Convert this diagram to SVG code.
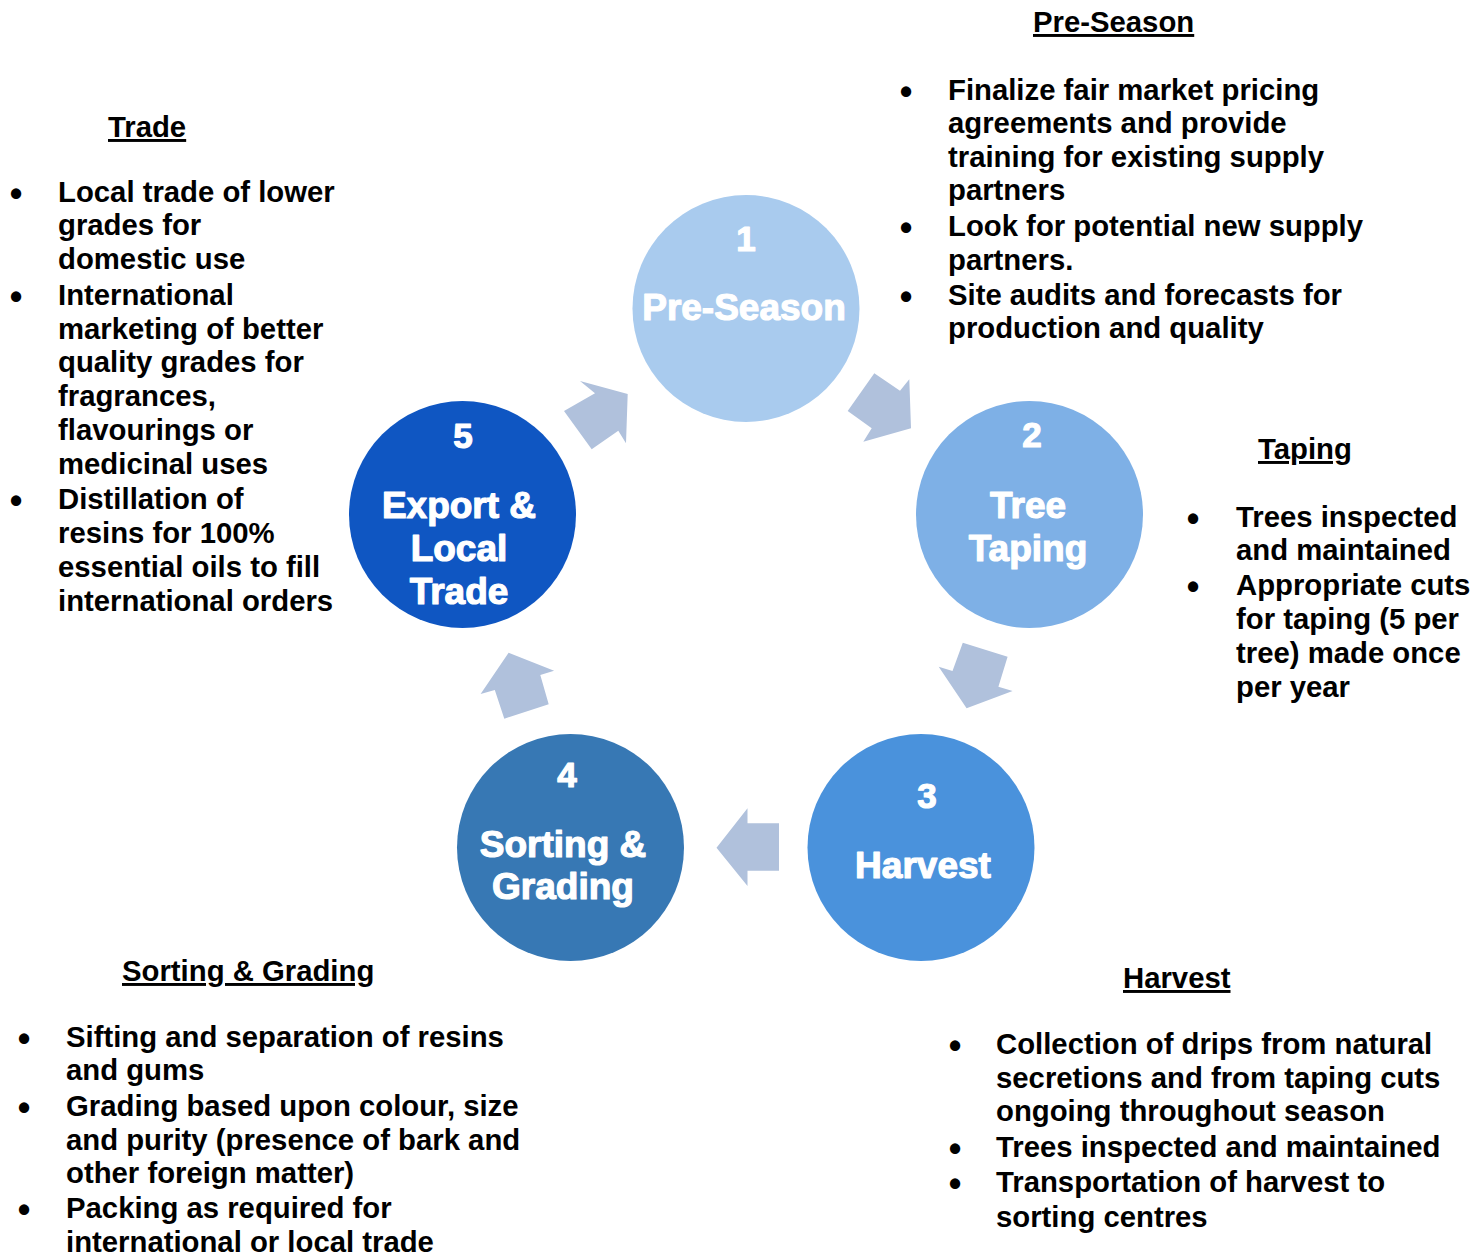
<svg xmlns="http://www.w3.org/2000/svg" width="1484" height="1254" viewBox="0 0 1484 1254">
<style>
.t{font-family:"Liberation Sans",Arial,sans-serif;font-weight:bold;font-size:29.3px;fill:#000}
.h{text-decoration:underline}
.b{text-anchor:middle;font-size:36px}
.c{font-family:"Liberation Sans",Arial,sans-serif;font-weight:bold;fill:#fff;stroke:#fff;stroke-width:1.2;stroke-linejoin:round;text-anchor:middle}
.n{font-size:35px}
.l{font-size:37px}
.arr{fill:#B0C1DC}
</style>
<rect width="1484" height="1254" fill="#fff"/>
<g id="connectors">
<polygon class="arr" points="564,411 591.7,449.3 618.3,430.7 626,443.3 627.7,394 580,381 595,393.3"/>
<polygon class="arr" points="874.3,373.3 900,390.7 909.3,379.3 911,428.3 863.3,441.7 871.7,428.3 847.7,411"/>
<polygon class="arr" points="962.8,642.7 1007.6,656.7 998.4,686.7 1012.6,691 966.6,708.3 938.7,666.7 952.5,671"/>
<polygon class="arr" points="779,823.3 747.5,823.3 747.5,808.3 716.5,847.7 747.5,886 747.5,870.7 779,870.7"/>
<polygon class="arr" points="508.6,652.7 554.1,670.7 540.3,675 548.7,704.3 504.3,718.7 494.8,690 480.6,694"/>
</g>
<g id="node1">
<circle cx="746" cy="308.5" r="113.5" fill="#A9CBEE"/>
<text class="c n" x="746" y="251">1</text>
<text class="c l" x="744" y="320">Pre-Season</text>
</g>
<g id="node2">
<circle cx="1029.5" cy="514.5" r="113.5" fill="#7EB0E6"/>
<text class="c n" x="1032" y="447">2</text>
<text class="c l" x="1028" y="518">Tree</text>
<text class="c l" x="1028" y="561">Taping</text>
</g>
<g id="node3">
<circle cx="921" cy="847.5" r="113.5" fill="#4A92DC"/>
<text class="c n" x="927" y="808">3</text>
<text class="c l" x="923" y="878">Harvest</text>
</g>
<g id="node4">
<circle cx="570.5" cy="847.5" r="113.5" fill="#3778B4"/>
<text class="c n" x="567" y="787">4</text>
<text class="c l" x="563" y="857">Sorting &amp;</text>
<text class="c l" x="563" y="899">Grading</text>
</g>
<g id="node5">
<circle cx="462.5" cy="514.5" r="113.5" fill="#0F56C2"/>
<text class="c n" x="463" y="448">5</text>
<text class="c l" x="459" y="518">Export &amp;</text>
<text class="c l" x="459" y="561">Local</text>
<text class="c l" x="459" y="604">Trade</text>
</g>
<g id="text-preseason">
<text class="t h" x="1033" y="32">Pre-Season</text>
<text class="t b" x="906" y="104">•</text>
<text class="t" x="948" y="100">Finalize fair market pricing</text>
<text class="t" x="948" y="133">agreements and provide</text>
<text class="t" x="948" y="167">training for existing supply</text>
<text class="t" x="948" y="200">partners</text>
<text class="t b" x="906" y="240">•</text>
<text class="t" x="948" y="236">Look for potential new supply</text>
<text class="t" x="948" y="270">partners.</text>
<text class="t b" x="906" y="309">•</text>
<text class="t" x="948" y="305">Site audits and forecasts for</text>
<text class="t" x="948" y="338">production and quality</text>
</g>
<g id="text-trade">
<text class="t h" x="108" y="137">Trade</text>
<text class="t b" x="16" y="206">•</text>
<text class="t" x="58" y="202">Local trade of lower</text>
<text class="t" x="58" y="235">grades for</text>
<text class="t" x="58" y="269">domestic use</text>
<text class="t b" x="16" y="309">•</text>
<text class="t" x="58" y="305">International</text>
<text class="t" x="58" y="339">marketing of better</text>
<text class="t" x="58" y="372">quality grades for</text>
<text class="t" x="58" y="406">fragrances,</text>
<text class="t" x="58" y="440">flavourings or</text>
<text class="t" x="58" y="474">medicinal uses</text>
<text class="t b" x="16" y="513">•</text>
<text class="t" x="58" y="509">Distillation of</text>
<text class="t" x="58" y="543">resins for 100%</text>
<text class="t" x="58" y="577">essential oils to fill</text>
<text class="t" x="58" y="611">international orders</text>
</g>
<g id="text-taping">
<text class="t h" x="1258" y="459">Taping</text>
<text class="t b" x="1193" y="531">•</text>
<text class="t" x="1236" y="527">Trees inspected</text>
<text class="t" x="1236" y="560">and maintained</text>
<text class="t b" x="1193" y="599">•</text>
<text class="t" x="1236" y="595">Appropriate cuts</text>
<text class="t" x="1236" y="629">for taping (5 per</text>
<text class="t" x="1236" y="663">tree) made once</text>
<text class="t" x="1236" y="697">per year</text>
</g>
<g id="text-harvest">
<text class="t h" x="1123" y="988">Harvest</text>
<text class="t b" x="955" y="1058">•</text>
<text class="t" x="996" y="1054">Collection of drips from natural</text>
<text class="t" x="996" y="1088">secretions and from taping cuts</text>
<text class="t" x="996" y="1121">ongoing throughout season</text>
<text class="t b" x="955" y="1161">•</text>
<text class="t" x="996" y="1157">Trees inspected and maintained</text>
<text class="t b" x="955" y="1196">•</text>
<text class="t" x="996" y="1192">Transportation of harvest to</text>
<text class="t" x="996" y="1227">sorting centres</text>
</g>
<g id="text-sorting">
<text class="t h" x="122" y="981">Sorting &amp; Grading</text>
<text class="t b" x="24" y="1051">•</text>
<text class="t" x="66" y="1047">Sifting and separation of resins</text>
<text class="t" x="66" y="1080">and gums</text>
<text class="t b" x="24" y="1120">•</text>
<text class="t" x="66" y="1116">Grading based upon colour, size</text>
<text class="t" x="66" y="1150">and purity (presence of bark and</text>
<text class="t" x="66" y="1183">other foreign matter)</text>
<text class="t b" x="24" y="1222">•</text>
<text class="t" x="66" y="1218">Packing as required for</text>
<text class="t" x="66" y="1252">international or local trade</text>
</g>
</svg>
